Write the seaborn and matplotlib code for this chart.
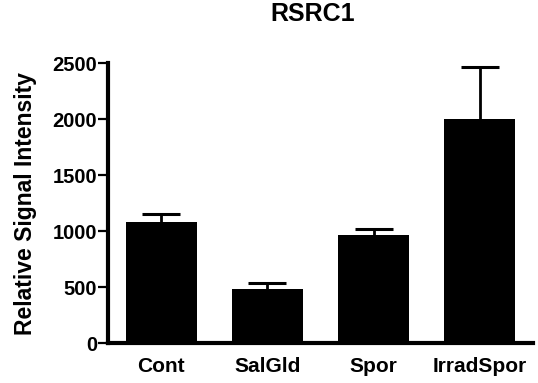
import matplotlib
matplotlib.use("Agg")
import matplotlib.pyplot as plt
import seaborn as sns
import pandas as pd

categories = ["Cont", "SalGld", "Spor", "IrradSpor"]
values = [1086, 487, 967, 2003]
errors_up = [66, 51, 51, 467]
y_ticks = [0, 500, 1000, 1500, 2000, 2500]

sns.set_style("ticks")
plt.rcParams["font.family"] = ["Liberation Sans", "DejaVu Sans"]
plt.rcParams["font.weight"] = "bold"
plt.rcParams["text.color"] = "black"
plt.rcParams["axes.labelcolor"] = "black"
plt.rcParams["xtick.color"] = "black"
plt.rcParams["ytick.color"] = "black"

df = pd.DataFrame({"group": categories, "value": values})

fig = plt.figure(figsize=(5.38, 3.83), dpi=100)
ax = fig.add_axes([108 / 538, 1 - 343.3 / 383, 425 / 538, 280 / 383])

sns.barplot(data=df, x="group", y="value", order=categories, color="black",
            saturation=1, width=0.67, errorbar=None, ax=ax, linewidth=0)

xs = list(range(len(categories)))
tops = [v + e for v, e in zip(values, errors_up)]
ax.vlines(xs, values, tops, colors="black", linewidth=2)
ax.plot(xs, tops, linestyle="none", marker="_", markersize=27,
        markeredgewidth=2.2, color="black")

ax.set_xlim(-0.5, 3.5)
ax.set_ylim(0, 2500)
ax.set_yticks(y_ticks)
ax.set_yticklabels([str(t) for t in y_ticks], fontsize=14.5, fontweight="bold")
ax.set_xticks(xs)
ax.set_xticklabels(categories, fontsize=15, fontweight="bold")
ax.tick_params(axis="x", length=0, pad=10)
ax.tick_params(axis="y", length=7, width=1.6, pad=1, color="black")
for s in ["top", "right"]:
    ax.spines[s].set_visible(False)
for s in ["left", "bottom"]:
    ax.spines[s].set_linewidth(3)
    ax.spines[s].set_color("black")

ax.set_xlabel("")
ax.set_ylabel("Relative Signal Intensity", fontsize=16.5, fontweight="bold",
              ha="center", va="center")
ax.yaxis.set_label_coords(-82 / 425, 0.5)
ax.set_title("RSRC1", fontsize=18, fontweight="bold", x=(312.5 - 108) / 425,
             y=(343.3 - 29.3) / 280, va="baseline")

fig.savefig("out.png", dpi=100)
